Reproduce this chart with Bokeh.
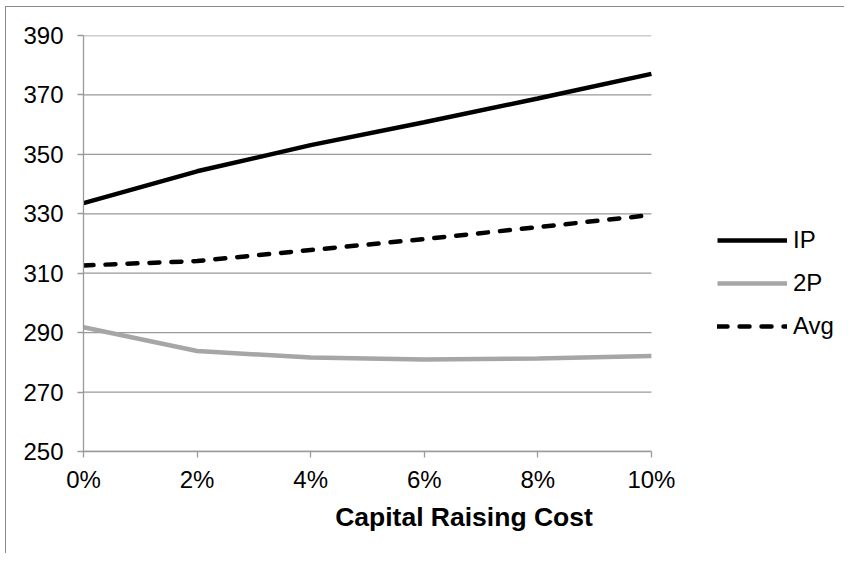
from bokeh.plotting import figure
from bokeh.models import FixedTicker, PrintfTickFormatter, Range1d, Legend, LegendItem, InlineStyleSheet
from bokeh.embed import file_html
from bokeh.resources import INLINE

cost_pct = [0, 2, 4, 6, 8, 10]
ip_vals = [333.6, 344.3, 353.1, 360.8, 368.8, 377.1]
two_p_vals = [291.8, 283.8, 281.6, 281.0, 281.3, 282.1]
avg_vals = [312.6, 314.1, 317.8, 321.5, 325.5, 329.6]
y_ticks = [250, 270, 290, 310, 330, 350, 370, 390]
x_ticks = [0, 2, 4, 6, 8, 10]

FONT = "Liberation Sans"
GRID = "#9a9a9a"

# frame spans to the right edge; 10% sits at 568 px from the left of the frame
p = figure(width=844, height=553, output_backend="svg", toolbar_location=None,
           x_range=Range1d(0, 13.40), y_range=Range1d(250, 390),
           min_border_left=83, min_border_right=0, min_border_top=35, min_border_bottom=102)
p.outline_line_color = None
p.stylesheets = [InlineStyleSheet(css=":host::after{content:'';position:absolute;left:5px;top:6px;right:0;bottom:0;"
                                      "border-left:1px solid #8a8a8a;border-top:1px solid #8a8a8a;pointer-events:none;}")]

p.xgrid.visible = False
p.ygrid.visible = False
p.segment(x0=[x_ticks[0]] * len(y_ticks), x1=[x_ticks[-1]] * len(y_ticks), y0=y_ticks, y1=y_ticks,
          line_color=GRID, line_width=1.3)

r_ip = p.line(cost_pct, ip_vals, line_color="black", line_width=4.5)
r_2p = p.line(cost_pct, two_p_vals, line_color="#a6a6a6", line_width=4.5)
r_avg = p.line(cost_pct, avg_vals, line_color="black", line_width=4.5, line_dash="10 12", line_cap="round")

p.xaxis.ticker = FixedTicker(ticks=x_ticks)
p.xaxis.formatter = PrintfTickFormatter(format="%d%%")
p.xaxis.bounds = (0, 10)
p.yaxis.ticker = FixedTicker(ticks=y_ticks)
for ax in (p.xaxis[0], p.yaxis[0]):
    ax.axis_line_color = GRID
    ax.axis_line_width = 1.3
    ax.major_tick_line_color = GRID
    ax.major_tick_line_width = 1.3
    ax.major_tick_out = 6
    ax.major_tick_in = 0
    ax.minor_tick_line_color = None
    ax.major_label_text_font = FONT
    ax.major_label_text_font_size = "24px"
    ax.major_label_text_color = "black"
p.yaxis.major_label_standoff = 14
p.xaxis.major_label_standoff = 8
p.xaxis.axis_label = "Capital Raising Cost"
p.xaxis.axis_label_text_font = FONT
p.xaxis.axis_label_text_font_style = "bold"
p.xaxis.axis_label_text_font_size = "26.5px"
p.xaxis.axis_label_text_color = "black"
p.xaxis.axis_label_standoff = 6

legend = Legend(items=[LegendItem(label="IP", renderers=[r_ip]),
                       LegendItem(label="2P", renderers=[r_2p]),
                       LegendItem(label="Avg", renderers=[r_avg])],
                location=(634, 111), orientation="vertical",
                glyph_width=70, glyph_height=22, label_height=22, spacing=15,
                label_standoff=6, padding=0, margin=0,
                border_line_color=None, background_fill_alpha=0,
                label_text_font=FONT, label_text_font_size="24px", label_text_color="black")
p.add_layout(legend)

open("out.html", "w").write(file_html(p, INLINE))
